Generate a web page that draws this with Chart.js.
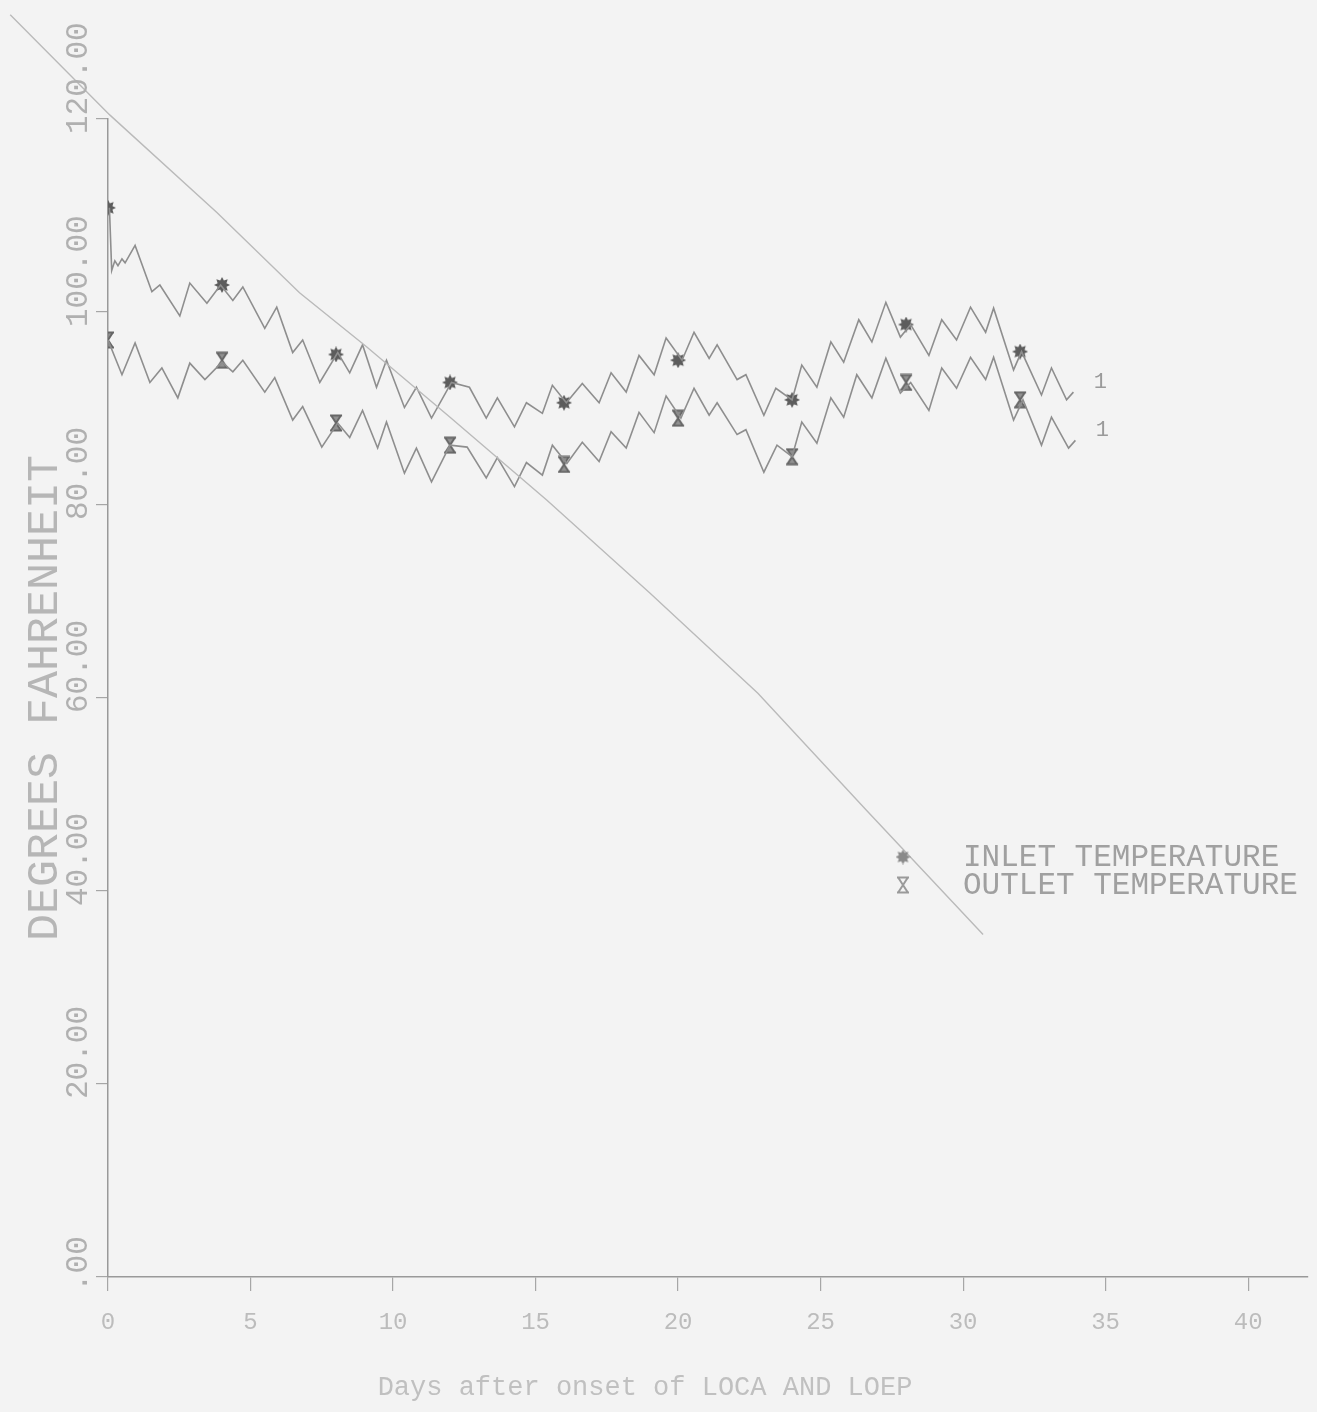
<!DOCTYPE html>
<html>
<head>
<meta charset="utf-8">
<script src="https://cdn.jsdelivr.net/npm/chart.js@4"></script>
<style>
  html, body { margin: 0; padding: 0; background: #f3f3f3; overflow: hidden; }
  #wrap { position: relative; width: 1317px; height: 1412px; }
</style>
</head>
<body>
<div id="wrap"><canvas id="tempChart"></canvas></div>
<script>
// traces: day, degrees F
const inletDays = [0.05, 0.13, 0.24, 0.35, 0.49, 0.6, 0.95, 1.54, 1.82, 2.52, 2.87, 3.47, 3.95, 4.38, 4.73,
  5.5, 5.92, 6.48, 6.83, 7.43, 8.06, 8.48, 8.93, 9.42, 9.77, 10.4, 10.82, 11.35, 12.05, 12.68, 13.27, 13.66,
  14.26, 14.68, 15.24, 15.59, 16.08, 16.64, 17.23, 17.65, 18.18, 18.63, 19.16, 19.58, 20.14, 20.56, 21.09,
  21.37, 22.07, 22.38, 23.01, 23.43, 24.0, 24.34, 24.87, 25.36, 25.81, 26.34, 26.8, 27.29, 27.8, 28.16, 28.8,
  29.25, 29.77, 30.26, 30.79, 31.07, 31.77, 32.05, 32.75, 33.1, 33.63, 33.87];
const inletTemps = [110.8, 104.3, 105.3, 104.8, 105.5, 105.1, 106.9, 102.1, 102.8, 99.6, 103.0, 100.9, 102.8, 101.2, 102.6,
  98.3, 100.5, 95.8, 97.1, 92.7, 95.8, 93.7, 96.6, 92.2, 95.0, 90.1, 92.2, 89.0, 92.7, 92.2, 89.0, 91.1,
  88.1, 90.6, 89.5, 92.4, 90.6, 92.6, 90.6, 93.7, 91.7, 95.5, 93.5, 97.3, 95.0, 97.9, 95.2,
  96.6, 93.0, 93.5, 89.3, 92.1, 90.9, 94.5, 92.2, 96.9, 94.8, 99.2, 96.9, 101.0, 97.4, 98.7, 95.5,
  99.2, 97.1, 100.5, 97.9, 100.4, 94.0, 95.9, 91.4, 94.2, 90.9, 91.7];

const outletDays = [0.0, 0.49, 0.95, 1.47, 1.89, 2.45, 2.87, 3.4, 4.0, 4.38, 4.73, 5.5, 5.85, 6.48, 6.83,
  7.5, 8.06, 8.48, 8.93, 9.46, 9.77, 10.4, 10.82, 11.35, 12.0, 12.6, 13.27, 13.66, 14.26, 14.68, 15.24,
  15.59, 16.1, 16.64, 17.23, 17.65, 18.18, 18.63, 19.16, 19.58, 20.1, 20.56, 21.09, 21.37, 22.07, 22.38,
  23.01, 23.47, 24.0, 24.34, 24.87, 25.36, 25.81, 26.27, 26.8, 27.29, 27.8, 28.16, 28.8, 29.25, 29.77,
  30.26, 30.79, 31.07, 31.77, 32.1, 32.75, 33.1, 33.7, 33.94];
const outletTemps = [97.1, 93.5, 96.8, 92.7, 94.2, 91.1, 94.7, 93.0, 94.8, 93.8, 95.0, 91.7, 93.2, 88.8, 90.2,
  86.0, 88.5, 87.0, 89.8, 85.9, 88.6, 83.3, 85.9, 82.4, 86.2, 86.0, 82.8, 84.9, 81.9, 84.4, 83.1,
  86.2, 84.3, 86.5, 84.5, 87.6, 85.9, 89.6, 87.5, 91.3, 89.0, 92.1, 89.3, 90.6, 87.3, 87.8,
  83.4, 86.2, 85.0, 88.6, 86.4, 91.1, 89.1, 93.5, 91.1, 95.2, 91.6, 92.7, 89.8, 94.2, 92.1,
  95.3, 93.0, 95.3, 88.8, 90.9, 86.2, 89.1, 85.9, 86.7];

// symbols every 4 days
const markerDays = [0, 4, 8, 12, 16, 20, 24, 28, 32];
const inletMarks = [110.8, 102.8, 95.6, 92.7, 90.6, 95.0, 90.9, 98.7, 95.9];
const outletMarks = [97.1, 95.0, 88.5, 86.2, 84.2, 89.0, 85.0, 92.7, 90.9];

// faint straight sweep across the sheet
const sweepDays = [-3.43, 0.07, 3.82, 6.72, 9.07, 12.0, 15.4, 19.0, 22.8, 26.6, 30.7];
const sweepTemps = [130.8, 120.4, 110.3, 102.0, 96.4, 89.1, 80.5, 70.9, 60.5, 48.4, 35.5];

const xTickValues = [0, 5, 10, 15, 20, 25, 30, 35, 40];
const yTickValues = [0, 20, 40, 60, 80, 100, 120];
const seriesLabels = ['INLET TEMPERATURE', 'OUTLET TEMPERATURE'];
const xTitle = 'Days after onset of LOCA AND LOEP';
const yTitle = 'DEGREES FAHRENHEIT';

const pts = (xs, ys) => xs.map((x, i) => ({ x: x, y: ys[i] }));
const fmtY = v => v === 0 ? '.00' : v.toFixed(2);

// plotter-ish symbols
function makeStar(size, color) {
  const c = document.createElement('canvas');
  c.width = size; c.height = size;
  const g = c.getContext('2d');
  g.fillStyle = color;
  g.beginPath();
  for (let i = 0; i < 16; i++) {
    const r = i % 2 ? size * 0.3 : size * 0.5;
    const a = i * Math.PI / 8;
    const px = size / 2 + r * Math.cos(a), py = size / 2 + r * Math.sin(a);
    i ? g.lineTo(px, py) : g.moveTo(px, py);
  }
  g.closePath();
  g.fill();
  return c;
}

function makeHourglass(w, h, color, filled) {
  const c = document.createElement('canvas');
  c.width = w; c.height = h;
  const g = c.getContext('2d');
  g.strokeStyle = color; g.fillStyle = color; g.lineWidth = 2;
  g.beginPath();
  g.moveTo(1, 1.5); g.lineTo(w - 1, 1.5);
  g.moveTo(1, h - 1.5); g.lineTo(w - 1, h - 1.5);
  g.moveTo(2.5, 2); g.lineTo(w - 2.5, h - 2);
  g.moveTo(w - 2.5, 2); g.lineTo(2.5, h - 2);
  g.stroke();
  if (filled) {
    g.beginPath();
    g.moveTo(2.5, 2); g.lineTo(w - 2.5, 2); g.lineTo(w / 2, h / 2); g.closePath();
    g.moveTo(w / 2, h / 2); g.lineTo(w - 2.5, h - 2); g.lineTo(2.5, h - 2); g.closePath();
    g.globalAlpha = 0.7;
    g.fill();
  }
  return c;
}

const inletSym = makeStar(16, '#5c5c5c');
const outletSym = makeHourglass(14, 18, '#666666', true);
const inletKey = makeStar(15, '#8a8a8a');
const outletKey = makeHourglass(14, 18, '#9a9a9a', false);

// tick labels on the y axis are rotated, plus the x title, curve tags and key
const plotText = {
  id: 'plotText',
  afterDraw(chart) {
    const ctx = chart.ctx;
    const xs = chart.scales.x, ys = chart.scales.y;
    ctx.save();

    ctx.fillStyle = '#b0b0b0';
    ctx.font = '31px "Liberation Mono", monospace';
    ctx.textAlign = 'left';
    ctx.textBaseline = 'middle';
    ys.ticks.forEach(t => {
      const py = ys.getPixelForValue(t.value);
      ctx.save();
      ctx.translate(79, py + 15);
      ctx.rotate(-Math.PI / 2);
      ctx.fillText(fmtY(t.value), 0, 0);
      ctx.restore();
    });

    ctx.fillStyle = '#c0c0c0';
    ctx.font = '27px "Liberation Mono", monospace';
    ctx.textAlign = 'center';
    ctx.fillText(xTitle, 645, 1388);

    // "1" tags at the end of each trace
    ctx.fillStyle = '#9a9a9a';
    ctx.font = '22px "Liberation Mono", monospace';
    [[inletDays, inletTemps], [outletDays, outletTemps]].forEach(([d, t]) => {
      const n = d.length - 1;
      ctx.fillText('1', xs.getPixelForValue(d[n]) + 27, ys.getPixelForValue(t[n]) - 10);
    });

    // key
    ctx.fillStyle = '#a0a0a0';
    ctx.font = '31px "Liberation Mono", monospace';
    ctx.textAlign = 'left';
    [[inletKey, 857], [outletKey, 885]].forEach(([img, ky], i) => {
      ctx.drawImage(img, 903 - img.width / 2, ky - img.height / 2);
      ctx.fillText(seriesLabels[i], 963, ky + 1);
    });

    ctx.restore();
  }
};

new Chart(document.getElementById('tempChart'), {
  type: 'scatter',
  data: {
    datasets: [
      {
        label: 'sweep',
        data: pts(sweepDays, sweepTemps),
        showLine: true, borderColor: '#bababa', borderWidth: 1.4,
        pointRadius: 0, clip: false
      },
      {
        label: 'inlet trace',
        data: pts(inletDays, inletTemps),
        showLine: true, borderColor: '#8e8e8e', borderWidth: 1.6, pointRadius: 0
      },
      {
        label: 'outlet trace',
        data: pts(outletDays, outletTemps),
        showLine: true, borderColor: '#8e8e8e', borderWidth: 1.6, pointRadius: 0
      },
      {
        label: seriesLabels[0],
        data: pts(markerDays, inletMarks),
        showLine: false, pointStyle: inletSym, pointRadius: 8
      },
      {
        label: seriesLabels[1],
        data: pts(markerDays, outletMarks),
        showLine: false, pointStyle: outletSym, pointRadius: 8
      }
    ]
  },
  options: {
    responsive: true,
    maintainAspectRatio: false,
    animation: false,
    layout: { padding: { top: 119, right: 7, left: 0, bottom: 0 } },
    plugins: { legend: { display: false }, tooltip: { enabled: false } },
    scales: {
      x: {
        type: 'linear', min: 0, max: 42.1,
        afterBuildTicks: s => { s.ticks = xTickValues.map(v => ({ value: v })); },
        afterFit: s => { s.height = 135; },
        grid: { drawOnChartArea: false, drawTicks: true, tickLength: 14, color: '#a6a6a6', lineWidth: 1.2 },
        border: { display: true, color: '#999999', width: 1.5 },
        ticks: {
          color: '#bcbcbc', padding: 17, maxRotation: 0, autoSkip: false,
          font: { family: 'Liberation Mono', size: 24 },
          callback: v => String(v)
        }
      },
      y: {
        type: 'linear', min: 0, max: 120,
        afterBuildTicks: s => { s.ticks = yTickValues.map(v => ({ value: v })); },
        afterFit: s => { s.width = 108; },
        grid: { drawOnChartArea: false, drawTicks: true, tickLength: 12, color: '#a6a6a6', lineWidth: 1.2 },
        border: { display: true, color: '#999999', width: 1.5 },
        ticks: { display: false },
        title: {
          display: true, text: yTitle, color: '#b6b6b6',
          font: { family: 'Liberation Mono', size: 45 },
          padding: { top: 18, bottom: 0 }
        }
      }
    }
  },
  plugins: [plotText]
});
</script>
</body>
</html>
